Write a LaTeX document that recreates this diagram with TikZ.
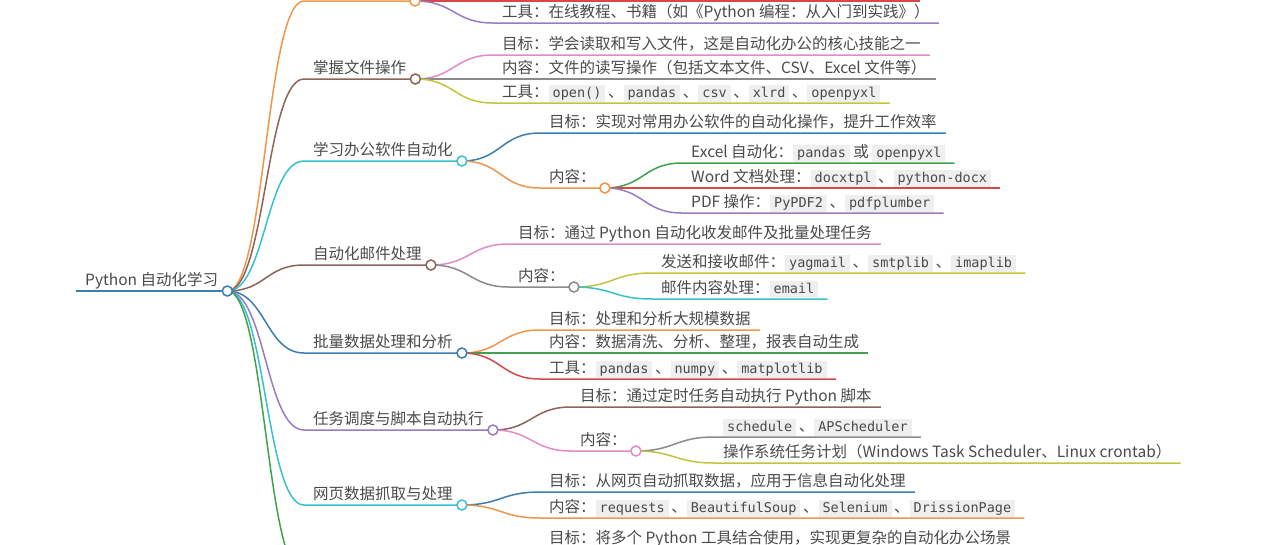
\documentclass[tikz,border=0pt]{standalone}
\usepackage{fontspec}
\setmainfont{Noto Sans CJK SC}
\setmonofont{DejaVu Sans Mono}
\usepackage{tikz}
\usetikzlibrary{calc}

\definecolor{ink}{HTML}{4A4A4A}
\definecolor{codebg}{HTML}{EFEFEF}
\definecolor{cblue}{HTML}{3C7DB3}
\definecolor{corange}{HTML}{F0954A}
\definecolor{cgreen}{HTML}{3FA34D}
\definecolor{cred}{HTML}{D44A4A}
\definecolor{cpurple}{HTML}{9A7BC2}
\definecolor{cbrown}{HTML}{8E6358}
\definecolor{cpink}{HTML}{E08CCB}
\definecolor{cgray}{HTML}{8A8A8A}
\definecolor{colive}{HTML}{C3C43E}
\definecolor{ccyan}{HTML}{38BFD0}

\newcommand\code[1]{{\setlength\fboxsep{1.5pt}\colorbox{codebg}{\hspace{2.5pt}\ttfamily\fontsize{13.5}{15}\selectfont\color{ink}\rule[-2.5pt]{0pt}{13.5pt}#1\hspace{2.5pt}}}}

\begin{document}
\begin{tikzpicture}[
   x=1pt,y=-1pt,
   font=\fontsize{15.5}{18}\selectfont,
   every node/.style={text=ink},
   topic/.style={anchor=south west,inner xsep=9pt,inner ysep=1pt,text depth=4pt},
   link/.style={to path={let \p1=(\tikztostart), \p2=(\tikztotarget) in
      .. controls ({(\x1+\x2)/2},\y1) and ({(\x1+\x2)/2},\y2) .. (\tikztotarget)}},
   edge/.style={draw=#1,line width=1.5pt,link},
   dot/.style={circle,draw=#1,fill=white,line width=1.5pt,minimum size=10pt,inner sep=0pt}]
\useasboundingbox (0,0) rectangle (1280,544);
\clip (0,0) rectangle (1280,544);

\node[topic] (root) at (76,291) {Python 自动化学习};
\draw[edge=cblue,line width=2pt] (root.south west) -- (root.south east);

\coordinate (b1) at (304,1);
\coordinate (b1o) at (415,1);
\coordinate (b1n) at (920,1);
\node[topic] (b1t) at (493,23) {工具：在线教程、书籍（如《Python 编程：从入门到实践》）};
\draw[edge=corange] (root.south east) to (b1) -- (b1o);
\draw[edge=cred] (b1o) -- (b1n);
\draw[edge=cpurple] (b1o) to (b1t.south west) -- (b1t.south east);

\node[topic] (b2) at (304,79) {掌握文件操作};
\node[topic] (b2g) at (493,55) {目标：学会读取和写入文件，这是自动化办公的核心技能之一};
\node[topic] (b2c) at (493,79) {内容：文件的读写操作（包括文本文件、CSV、Excel 文件等）};
\node[topic] (b2t) at (493,103) {工具：\code{open()}\,、\code{pandas}\,、\code{csv}\,、\code{xlrd}\,、\code{openpyxl}};
\draw[edge=cbrown] (root.south east) to (b2.south west) -- (b2.south east);
\draw[edge=cpink] (b2.south east) to (b2g.south west) -- (b2g.south east);
\draw[edge=cgray] (b2.south east) to (b2c.south west) -- (b2c.south east);
\draw[edge=colive] (b2.south east) to (b2t.south west) -- (b2t.south east);

\node[topic] (b3) at (304,161) {学习办公软件自动化};
\node[topic] (b3g) at (540,133) {目标：实现对常用办公软件的自动化操作，提升工作效率};
\node[topic] (b3c) at (540,188) {内容：};
\node[topic] (b3x) at (682,163) {Excel 自动化：\code{pandas} 或 \code{openpyxl}};
\node[topic] (b3w) at (682,188) {Word 文档处理：\code{docxtpl}\,、\code{python-docx}};
\node[topic] (b3p) at (682,213) {PDF 操作：\code{PyPDF2}\,、\code{pdfplumber}};
\draw[edge=ccyan] (root.south east) to (b3.south west) -- (b3.south east);
\draw[edge=cblue] (b3.south east) to (b3g.south west) -- (b3g.south east);
\draw[edge=corange] (b3.south east) to (b3c.south west) -- (b3c.south east);
\draw[edge=cgreen] (b3c.south east) to (b3x.south west) -- (b3x.south east);
\draw[edge=cred] (b3c.south east) to (b3w.south west) -- (b3w.south east);
\draw[edge=cpurple] (b3c.south east) to (b3p.south west) -- (b3p.south east);

\node[topic] (b4) at (304,265) {自动化邮件处理};
\node[topic] (b4g) at (509,244) {目标：通过 Python 自动化收发邮件及批量处理任务};
\node[topic] (b4c) at (509,287) {内容：};
\node[topic] (b4s) at (652,273) {发送和接收邮件：\code{yagmail}\,、\code{smtplib}\,、\code{imaplib}};
\node[topic] (b4m) at (652,299) {邮件内容处理：\code{email}};
\draw[edge=cbrown] (root.south east) to (b4.south west) -- (b4.south east);
\draw[edge=cpink] (b4.south east) to (b4g.south west) -- (b4g.south east);
\draw[edge=cgray] (b4.south east) to (b4c.south west) -- (b4c.south east);
\draw[edge=colive] (b4c.south east) to (b4s.south west) -- (b4s.south east);
\draw[edge=ccyan] (b4c.south east) to (b4m.south west) -- (b4m.south east);

\node[topic] (b5) at (304,353) {批量数据处理和分析};
\node[topic] (b5g) at (540,330) {目标：处理和分析大规模数据};
\node[topic] (b5c) at (540,353) {内容：数据清洗、分析、整理，报表自动生成};
\node[topic] (b5t) at (540,379) {工具：\code{pandas}\,、\code{numpy}\,、\code{matplotlib}};
\draw[edge=cblue] (root.south east) to (b5.south west) -- (b5.south east);
\draw[edge=corange] (b5.south east) to (b5g.south west) -- (b5g.south east);
\draw[edge=cgreen] (b5.south east) to (b5c.south west) -- (b5c.south east);
\draw[edge=cred] (b5.south east) to (b5t.south west) -- (b5t.south east);

\node[topic] (b6) at (304,430) {任务调度与脚本自动执行};
\node[topic] (b6g) at (571,407) {目标：通过定时任务自动执行 Python 脚本};
\node[topic] (b6c) at (571,451) {内容：};
\node[topic] (b6s) at (714,437) {\code{schedule}\,、\code{APScheduler}};
\node[topic] (b6o) at (714,463) {操作系统任务计划（Windows Task Scheduler、Linux crontab）};
\draw[edge=cpurple] (root.south east) to (b6.south west) -- (b6.south east);
\draw[edge=cbrown] (b6.south east) to (b6g.south west) -- (b6g.south east);
\draw[edge=cpink] (b6.south east) to (b6c.south west) -- (b6c.south east);
\draw[edge=cgray] (b6c.south east) to (b6s.south west) -- (b6s.south east);
\draw[edge=colive] (b6c.south east) to (b6o.south west) -- (b6o.south east);

\node[topic] (b7) at (304,505) {网页数据抓取与处理};
\node[topic] (b7g) at (540,492) {目标：从网页自动抓取数据，应用于信息自动化处理};
\node[topic] (b7c) at (540,518) {内容：\code{requests}\,、\code{BeautifulSoup}\,、\code{Selenium}\,、\code{DrissionPage}};
\draw[edge=ccyan] (root.south east) to (b7.south west) -- (b7.south east);
\draw[edge=cblue] (b7.south east) to (b7g.south west) -- (b7g.south east);
\draw[edge=corange] (b7.south east) to (b7c.south west) -- (b7c.south east);

\coordinate (b8) at (304,575);
\node[topic] (b8g) at (540,549) {目标：将多个 Python 工具结合使用，实现更复杂的自动化办公场景};
\draw[edge=cgreen] (root.south east) to (b8);

\node[dot=corange] (b1-o) at (b1o) {};
\foreach \n/\c in {root/cblue,b2/cbrown,b3/ccyan,b3c/corange,b4/cbrown,b4c/cgray,
                  b5/cblue,b6/cpurple,b6c/cpink,b7/ccyan}
  \node[dot=\c] (\n-o) at (\n.south east) {};
\end{tikzpicture}
\end{document}
